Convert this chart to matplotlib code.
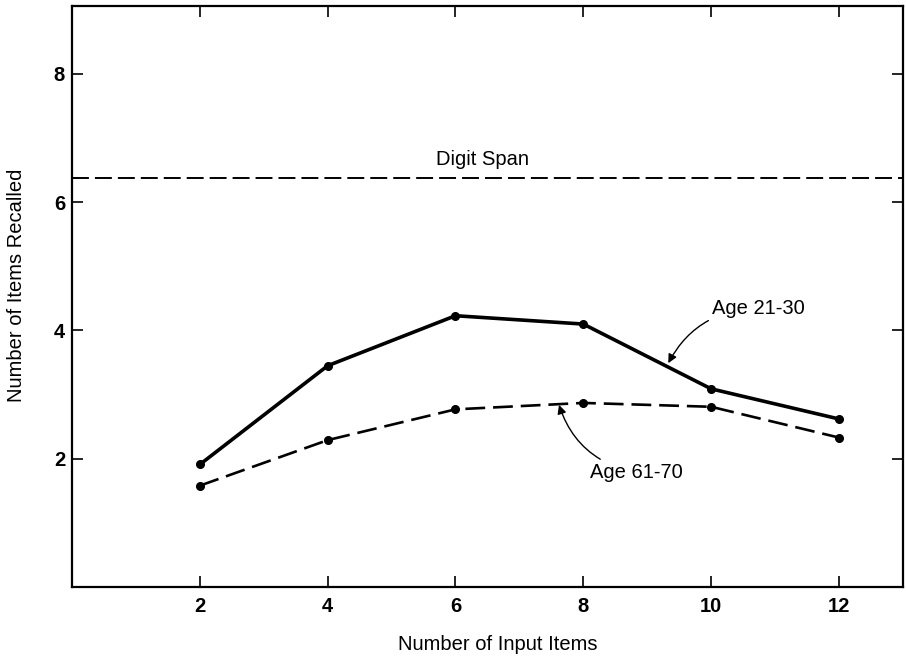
import matplotlib.pyplot as plt

input_items = [2, 4, 6, 8, 10, 12]
recall_21_30 = [1.91, 3.45, 4.23, 4.10, 3.09, 2.62]
recall_61_70 = [1.58, 2.29, 2.77, 2.87, 2.81, 2.33]
digit_span = 6.37

x_ticks = [2, 4, 6, 8, 10, 12]
y_ticks = [2, 4, 6, 8]

font = "Liberation Sans"

fig = plt.figure(figsize=(9.06, 6.59), dpi=100)
ax = fig.add_axes([0.0795, 0.1093, 0.917, 0.8816])

ax.plot(input_items, recall_21_30, color="black", lw=2.6, marker="o", ms=5.5)
ax.plot(input_items, recall_61_70, color="black", lw=1.9, ls=(0, (7.5, 3)),
        marker="o", ms=5.5)
ax.axhline(digit_span, color="black", lw=1.4, ls=(0, (8.7, 3.1)))

ax.text(6.43, 6.67, "Digit Span", ha="center", va="center",
        fontsize=14.5, family=font)

ax.annotate("Age 21-30", xy=(9.33, 3.49), xytext=(10.02, 4.34),
            ha="left", va="center", fontsize=14.5, family=font,
            arrowprops=dict(arrowstyle="-|>", color="black", lw=1.0,
                            connectionstyle="arc3,rad=0.3", shrinkA=1, shrinkB=0,
                            mutation_scale=13))
ax.annotate("Age 61-70", xy=(7.62, 2.84), xytext=(8.11, 1.79),
            ha="left", va="center", fontsize=14.5, family=font,
            arrowprops=dict(arrowstyle="-|>", color="black", lw=1.0,
                            connectionstyle="arc3,rad=-0.3", shrinkA=1, shrinkB=0,
                            mutation_scale=13))

ax.set_xlim(0, 13)
ax.set_ylim(0, 9.06)
ax.set_xticks(x_ticks)
ax.set_yticks(y_ticks)
ax.tick_params(direction="in", length=8, width=1.2, top=True, right=True)
ax.tick_params(axis="x", pad=7)
ax.tick_params(axis="y", pad=5)
for lab in ax.get_xticklabels() + ax.get_yticklabels():
    lab.set_fontfamily(font)
    lab.set_fontweight("bold")
    lab.set_fontsize(14.5)
for s in ax.spines.values():
    s.set_linewidth(1.6)

ax.set_xlabel("Number of Input Items", fontsize=14.5, family=font)
ax.set_ylabel("Number of Items Recalled", fontsize=14.5, family=font)
ax.xaxis.set_label_coords(0.512, -0.082)
ax.yaxis.set_label_coords(-0.056, 0.52)

fig.savefig("out.png", dpi=100)
